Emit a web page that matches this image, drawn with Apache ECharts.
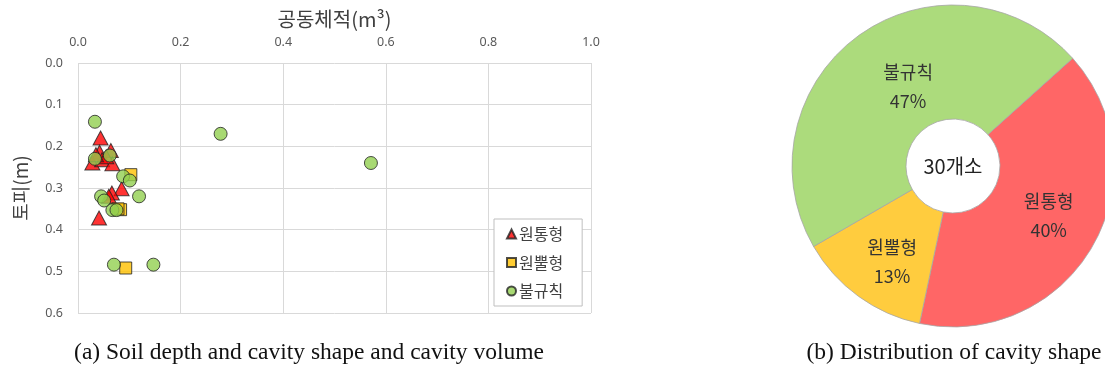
<!DOCTYPE html>
<html><head><meta charset="utf-8">
<script src="https://cdn.jsdelivr.net/npm/echarts@6/dist/echarts.min.js"></script>
<style>html,body{margin:0;padding:0;background:#fff}#c{width:1105px;height:369px}</style>
</head><body><div id="c"></div>
<script>
// Scatter data: [cavity volume (m3), soil depth (m)]
const cylinderPts = [[0.044,0.18],[0.042,0.214],[0.064,0.21],[0.028,0.24],[0.047,0.232],[0.067,0.242],[0.055,0.225],[0.035,0.22],[0.085,0.302],[0.066,0.312],[0.06,0.32],[0.041,0.372]];
const conePts = [[0.103,0.268],[0.083,0.352],[0.078,0.35],[0.093,0.492]];
const irregularPts = [[0.033,0.141],[0.278,0.17],[0.571,0.24],[0.033,0.23],[0.062,0.222],[0.088,0.272],[0.101,0.282],[0.045,0.32],[0.051,0.33],[0.119,0.32],[0.067,0.353],[0.075,0.353],[0.07,0.484],[0.147,0.484]];
const seriesNames = ['원통형','원뿔형','불규칙'];
const pieValues = [12, 4, 14];
const xTicks = {min:0, max:1.0, step:0.2};
const yTicks = {min:0, max:0.6, step:0.1};
const colors = {cyl:'#ff0000', cone:'#ffc000', irr:'#92d050'};
const pieColors = ['#ff6666','#ffcc3e','#acdb7c'];
const pieLabelOffsets = [[3,-4],[2,9],[18,7]];

const chart = echarts.init(document.getElementById('c'));
const kr = '"Noto Sans CJK KR", sans-serif';
const tickFont = {fontFamily:'"Noto Sans", "Noto Sans CJK KR", sans-serif', fontSize:12.5, color:'#595959'};
chart.setOption({
  animation:false,
  backgroundColor:'#fff',
  grid:{left:78, top:63, width:513, height:250, containLabel:false},
  xAxis:{type:'value', position:'top', min:xTicks.min, max:xTicks.max, interval:xTicks.step,
    name:'공동체적(m³)', nameLocation:'middle', nameGap:34,
    nameTextStyle:{fontFamily:kr, fontSize:20, color:'#404040'},
    axisLine:{show:false}, axisTick:{show:false},
    axisLabel:Object.assign({margin:14, formatter:v=>v.toFixed(1)}, tickFont),
    splitLine:{show:true, lineStyle:{color:'#d9d9d9', width:1}}},
  yAxis:{type:'value', inverse:true, min:yTicks.min, max:yTicks.max, interval:yTicks.step,
    name:'토피(m)', nameLocation:'middle', nameGap:48, nameRotate:90,
    nameTextStyle:{fontFamily:kr, fontSize:19, color:'#404040'},
    axisLine:{show:false}, axisTick:{show:false},
    axisLabel:Object.assign({margin:15, formatter:v=>v.toFixed(1)}, tickFont),
    splitLine:{show:true, lineStyle:{color:'#d9d9d9', width:1}}},
  legend:{orient:'vertical', left:494, top:219,
    data:seriesNames.map(n=>({name:n})),
    borderColor:'#bfbfbf', borderWidth:1, padding:[7,19,7,12], itemGap:12.5,
    itemWidth:9, itemHeight:9,
    textStyle:{fontFamily:kr, fontSize:16, lineHeight:16, color:'#404040', padding:[0,0,0,-2]},
    backgroundColor:'#fff'},
  series:[
    {name:seriesNames[0], type:'scatter', data:cylinderPts, symbol:'triangle', symbolSize:[15,14],
      itemStyle:{color:colors.cyl, borderColor:'#222', borderWidth:1}},
    {name:seriesNames[1], type:'scatter', data:conePts, symbol:'rect', symbolSize:12,
      itemStyle:{color:colors.cone, borderColor:'#222', borderWidth:1}},
    {name:seriesNames[2], type:'scatter', data:irregularPts, symbol:'circle', symbolSize:13,
      itemStyle:{color:colors.irr, borderColor:'#222', borderWidth:1}},
    {name:'pie', type:'pie', center:[953,166], radius:[47,161], startAngle:42, clockwise:true,
      percentPrecision:0, silent:true, legendHoverLink:false,
      data:seriesNames.map((n,i)=>({name:n, value:pieValues[i], itemStyle:{color:pieColors[i]},
        label:{offset:pieLabelOffsets[i]}})),
      itemStyle:{borderColor:'#a6a6a6', borderWidth:0.8},
      label:{show:true, position:'inside', formatter:'{b}\n{d}%', fontFamily:kr,
        fontSize:18, lineHeight:29, color:'#333'},
      labelLine:{show:false}}
  ],
  graphic:[
    {type:'text', style:{text:'30개소', x:953, y:166, textAlign:'center', textVerticalAlign:'middle',
      font:'20px "Noto Sans CJK KR", sans-serif', fill:'#222'}},
    {type:'text', style:{text:'(a) Soil depth and cavity shape and cavity volume', x:309, y:353, textAlign:'center', textVerticalAlign:'middle',
      font:'23.5px "Liberation Serif", serif', fill:'#111'}},
    {type:'text', style:{text:'(b) Distribution of cavity shape', x:954, y:353, textAlign:'center', textVerticalAlign:'middle',
      font:'23.5px "Liberation Serif", serif', fill:'#111'}}
  ]
});
</script></body></html>
